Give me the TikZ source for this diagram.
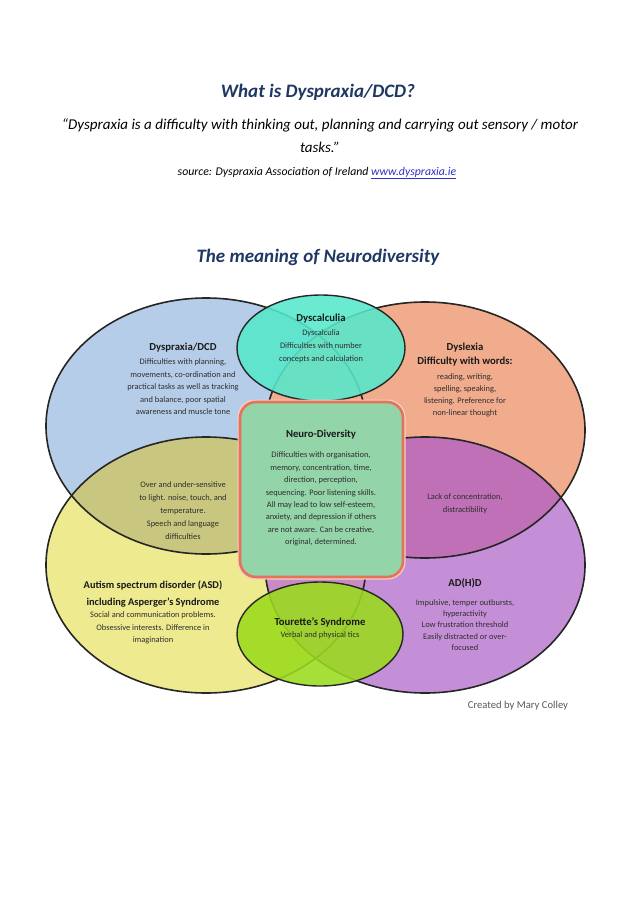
\documentclass[tikz,border=0pt]{standalone}
\usepackage{fontspec}
\setmainfont{Carlito}
\definecolor{navy}{HTML}{1F3763}
\definecolor{bluef}{HTML}{B6CDE9}
\definecolor{salmf}{HTML}{F1AB8D}
\definecolor{yelf}{HTML}{EEEA8F}
\definecolor{purf}{HTML}{C58FD8}
\definecolor{olivef}{HTML}{C9C77F}
\definecolor{magf}{HTML}{BF70B6}
\definecolor{mauvef}{HTML}{C98BC4}
\definecolor{dyscf}{HTML}{55E8CB}
\definecolor{tourf}{HTML}{9ADB1C}
\definecolor{boxf}{HTML}{93D4A9}
\definecolor{boxd}{HTML}{E4735A}
\definecolor{outc}{HTML}{262626}
\definecolor{headc}{HTML}{1A1A1A}
\definecolor{bodyc}{HTML}{2E2E2E}
\definecolor{linkc}{HTML}{3030C8}
\begin{document}
\begin{tikzpicture}[x=1pt,y=-1pt,
  outl/.style={draw=outc, line width=1.6pt},
  body/.style={align=center, inner sep=0pt, text=bodyc, font=\fontsize{8.4}{12.5}\selectfont},
  head/.style={align=center, inner sep=0pt, text=headc, font=\bfseries\fontsize{10.7}{15}\selectfont},
  toptext/.style={align=center, inner sep=0pt},
]
\fill[white] (0,0) rectangle (638,903);
\useasboundingbox (0,0) rectangle (638,903);

% titles
\node[toptext, text=navy, font=\bfseries\itshape\fontsize{19}{22}\selectfont] (title) at (318,92) {What is Dyspraxia/DCD?};
\node[toptext, font=\itshape\fontsize{15}{23}\selectfont] (quote) at (320,136) {“Dyspraxia is a difficulty with thinking out, planning and carrying out sensory / motor\\ tasks.”};
\node[toptext, font=\itshape\fontsize{11.8}{13}\selectfont] (source) at (317,173) {source: Dyspraxia Association of Ireland {\color{linkc}\underline{www.dyspraxia.ie}}};
\node[toptext, text=navy, font=\bfseries\itshape\fontsize{19}{22}\selectfont] (meaning) at (318,257) {The meaning of Neurodiversity};

% big ellipses fills
\fill[bluef] (206,426) ellipse [x radius=160pt, y radius=128pt];
\fill[salmf] (425,430) ellipse [x radius=160pt, y radius=128pt];
\fill[yelf] (206,565) ellipse [x radius=160pt, y radius=128pt];
\fill[purf] (425,565) ellipse [x radius=160pt, y radius=128pt];
% overlaps
\begin{scope}
  \clip (206,426) ellipse [x radius=160pt, y radius=128pt];
  \fill[olivef] (206,565) ellipse [x radius=160pt, y radius=128pt];
\end{scope}
\begin{scope}
  \clip (425,430) ellipse [x radius=160pt, y radius=128pt];
  \fill[magf] (425,565) ellipse [x radius=160pt, y radius=128pt];
\end{scope}
\begin{scope}
  \clip (206,565) ellipse [x radius=160pt, y radius=128pt];
  \fill[mauvef] (425,565) ellipse [x radius=160pt, y radius=128pt];
\end{scope}
% outlines
\draw[outl] (206,426) ellipse [x radius=160pt, y radius=128pt];
\draw[outl] (425,430) ellipse [x radius=160pt, y radius=128pt];
\draw[outl] (206,565) ellipse [x radius=160pt, y radius=128pt];
\draw[outl] (425,565) ellipse [x radius=160pt, y radius=128pt];

% small ellipses
\fill[dyscf, fill opacity=0.88] (321,348) ellipse [x radius=84pt, y radius=53pt];
\draw[draw=outc, line width=1.4pt] (321,348) ellipse [x radius=84pt, y radius=53pt];
\fill[tourf, fill opacity=0.88] (320,634) ellipse [x radius=83pt, y radius=52pt];
\draw[draw=outc, line width=1.4pt] (320,634) ellipse [x radius=83pt, y radius=52pt];

% central box
\fill[boxd!35, rounded corners=18pt] (237.5,399.5) rectangle (405.5,579.5);
\draw[fill=boxf, draw=boxd, line width=2.6pt, rounded corners=16pt] (240,402) rectangle (403,577);

% texts
\node[head] (dyspH) at (183,348) {Dyspraxia/DCD};
\node[body] (dyspB) at (183,387) {Difficulties with planning,\\ movements, co-ordination and\\ practical tasks as well as tracking\\ and balance, poor spatial\\ awareness and muscle tone};

\node[head] (dyscH) at (321,319) {Dyscalculia};
\node[body, font=\fontsize{8.4}{13}\selectfont] (dyscB) at (321,346) {Dyscalculia\\ Difficulties with number\\ concepts and calculation};

\node[head, font=\bfseries\fontsize{10.7}{14}\selectfont] (dyslH) at (465,355) {Dyslexia\\ Difficulty with words:};
\node[body, font=\fontsize{8.4}{12}\selectfont] (dyslB) at (465,395) {reading, writing,\\ spelling, speaking,\\ listening. Preference for\\ non-linear thought};

\node[body, font=\fontsize{8.4}{13}\selectfont] (sens) at (183,511) {Over and under-sensitive\\ to light. noise, touch, and\\ temperature.\\ Speech and language\\ difficulties};

\node[head] (neuroH) at (321,435) {Neuro-Diversity};
\node[body, font=\fontsize{8.4}{12.4}\selectfont] (neuroB) at (321,499) {Difficulties with organisation,\\ memory, concentration, time,\\ direction, perception,\\ sequencing. Poor listening skills.\\ All may lead to low self-esteem,\\ anxiety, and depression if others\\ are not aware. Can be creative,\\ original, determined.};

\node[body] (lack) at (465,504) {Lack of concentration,\\ distractibility};

\node[head, font=\bfseries\fontsize{10.4}{16.5}\selectfont] (asdH) at (153,594) {Autism spectrum disorder (ASD)\\ including Asperger's Syndrome};
\node[body] (asdB) at (153,628) {Social and communication problems.\\ Obsessive interests. Difference in\\ imagination};

\node[head] (tourH) at (320,622) {Tourette's Syndrome};
\node[body] (tourB) at (320,635) {Verbal and physical tics};

\node[head] (adhdH) at (465,583) {AD(H)D};
\node[body, font=\fontsize{8.4}{11.3}\selectfont] (adhdB) at (465,625) {Impulsive, temper outbursts,\\ hyperactivity\\ Low frustration threshold\\ Easily distracted or over-\\ focused};

\node[inner sep=0pt, text=black!65, font=\fontsize{10.6}{12}\selectfont] (credit) at (518,706) {Created by Mary Colley};
\end{tikzpicture}
\end{document}
